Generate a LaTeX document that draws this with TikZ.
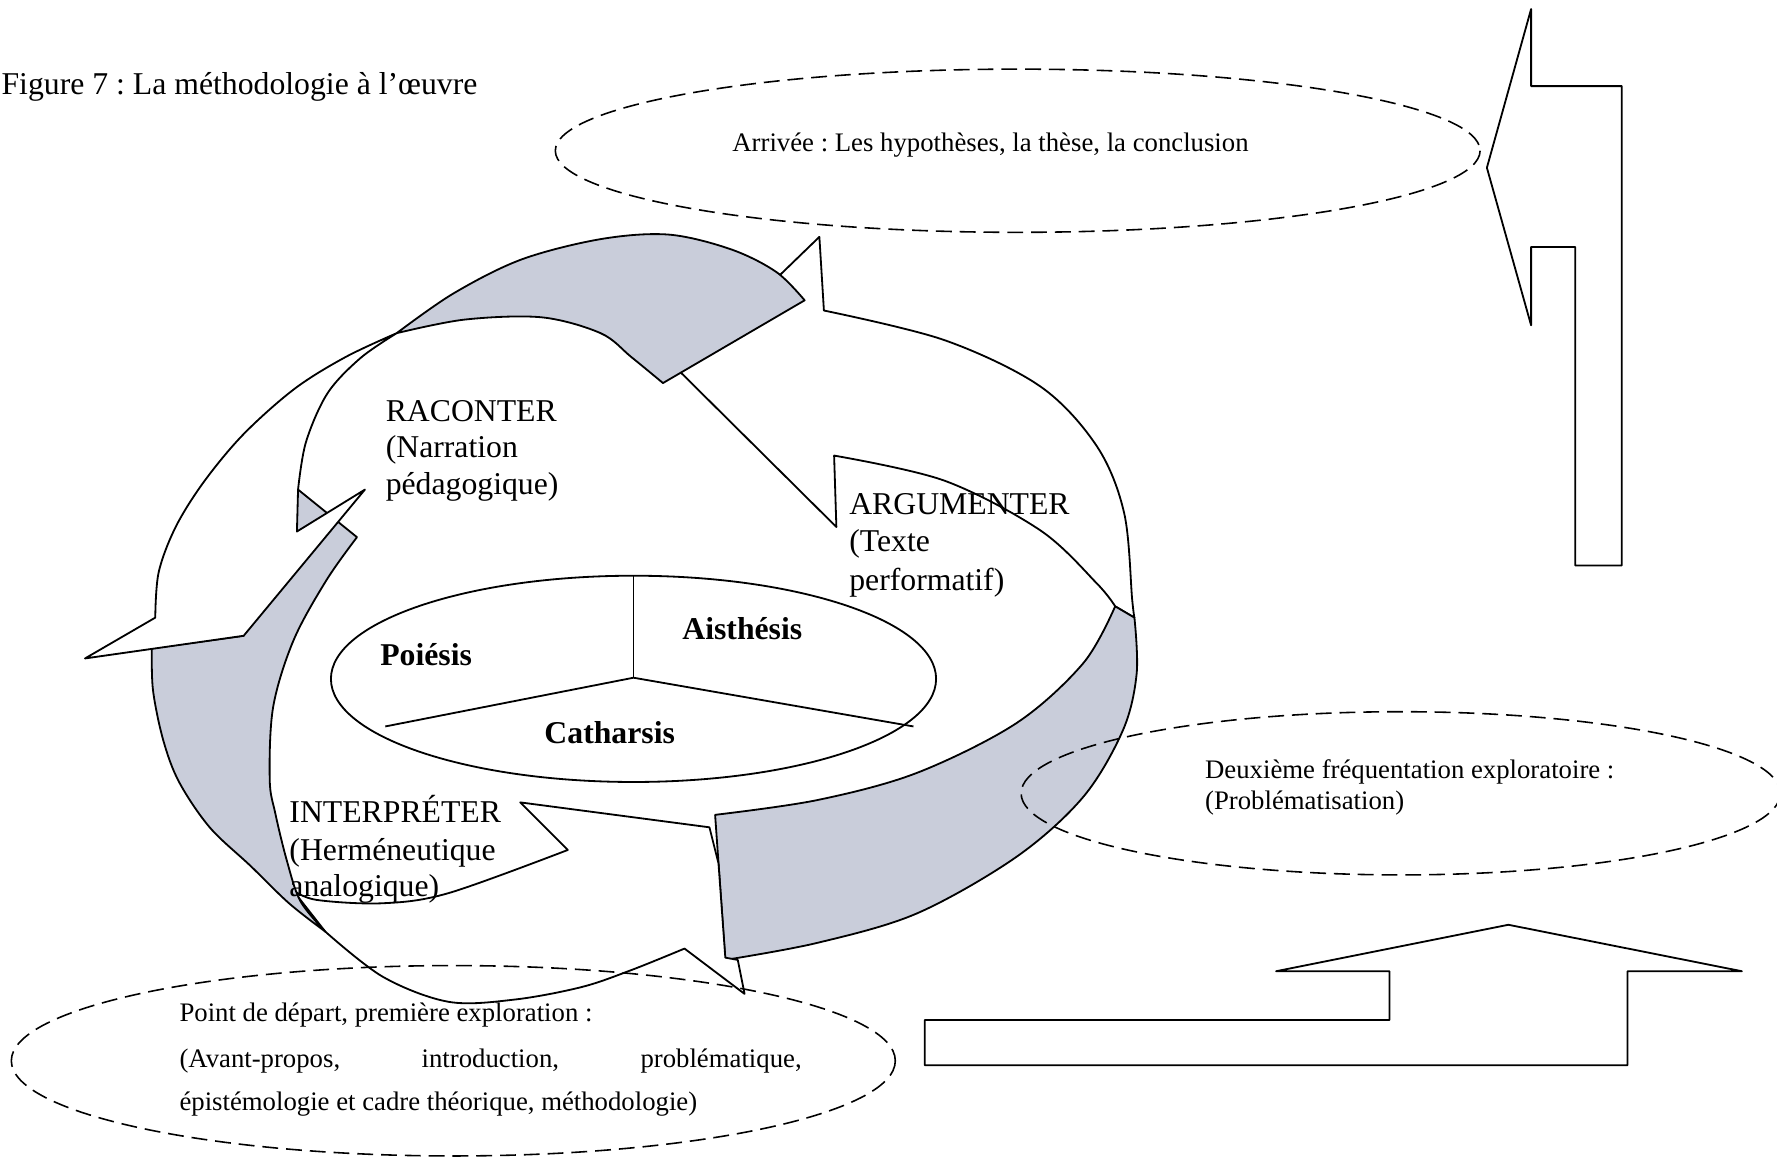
\documentclass[tikz,border=0pt]{standalone}
\usepackage{fontspec}
\setmainfont{Liberation Serif}
\frenchspacing
\definecolor{wallgray}{RGB}{201,205,218}
\begin{document}
\begin{tikzpicture}[x=0.5pt,y=-0.5pt,
  outline/.style={draw=black,line width=0.8pt,line join=round},
  face/.style={outline,fill=white},
  wall/.style={outline,fill=wallgray},
  zone/.style={draw=black,line width=0.7pt,dash pattern=on 7pt off 3.5pt},
  bigtxt/.style={font=\fontsize{14}{16}\selectfont,inner sep=0pt,anchor=base west},
  smalltxt/.style={font=\fontsize{11.8}{14}\selectfont,inner sep=0pt,anchor=base west},
  keyword/.style={font=\fontsize{14}{16}\selectfont\bfseries,inner sep=0pt,anchor=base},
  sm/.style={smooth,tension=0.55}]
\useasboundingbox (0,0) rectangle (1568,1022);

% --- cycle of three curved ribbons ---
% right ribbon (ARGUMENTER), white face
\path[face] (723,209) -- (727,274)
  -- plot[sm] coordinates {(727,274) (833,300) (918,341) (968,394) (992,453) (999,529) (1001,545)}
  -- (984,535)
  -- plot[sm] coordinates {(984,535) (968,515) (918,468) (833,424) (736,402)}
  -- (738,465) -- (600,328) -- cycle;
% top wall
\path[wall] (350,294)
  -- plot[sm] coordinates {(350,294) (400,259) (460,229) (530,211) (590,207) (645,220) (685,240) (710,265)}
  -- (585,338)
  -- plot[sm] coordinates {(585,338) (557,315) (530,294) (478,280) (410,282) (350,294)}
  -- cycle;
% lower right wall
\path[wall] (984,535)
  -- plot[sm] coordinates {(984,535) (956,585) (897,638) (809,682) (721,706) (631,719)}
  -- (640,847)
  -- plot[sm] coordinates {(640,847) (721,832) (809,806) (897,756) (956,703) (991,644) (1003,594) (1001,545)}
  -- cycle;
% bottom ribbon (INTERPRETER), white face
\path[face] (459,708) -- (626,730) -- (634,762) -- (640,845) -- (651,847) -- (657,877) -- (604,837)
  -- plot[sm] coordinates {(604,837) (557,856) (513,871) (454,882) (396,884) (338,862) (287,822)}
  -- (258,785)
  -- plot[sm] coordinates {(258,785) (279,794) (338,797) (396,788) (501,750)}
  -- cycle;
% left wall
\path[wall] (263,432) -- (315,474)
  -- plot[sm] coordinates {(315,474) (288,512) (259,565) (241,624) (238,688) (243,718) (253,759) (265,795) (287,822)}
  -- plot[sm] coordinates {(287,822) (255,797) (221,764) (185,730) (158,690) (144,653) (135,609) (134,572)}
  -- (215,561) -- cycle;
% top-left ribbon (RACONTER), white face
\path[face] (75,581) -- (137,545)
  -- plot[sm] coordinates {(137,545) (140,505) (155,465) (180,425) (215,383) (260,343) (305,315) (350,294)}
  -- plot[sm] coordinates {(350,294) (318,316) (289,347) (270,390) (263,432)}
  -- (262,469) -- (322,432) -- (215,561) -- cycle;

% --- central ellipse with its three sectors ---
\draw[outline] (559,599) ellipse [x radius=267, y radius=91];
\coordinate (hub) at (559,598);
\draw[outline] (hub) -- (559,508);
\draw[outline] (hub) -- (340,641);
\draw[outline] (hub) -- (806,641);
\node[keyword] (poi) at (376,587) {Poiésis};
\node[keyword] (ais) at (655,564) {Aisthésis};
\node[keyword] (cat) at (538,656) {Catharsis};

% --- dashed stage ellipses ---
\draw[zone] (898,133) ellipse [x radius=408, y radius=72];
\draw[zone] (1236,700) ellipse [x radius=335, y radius=72];
\draw[zone] (400,936) ellipse [x radius=390, y radius=84];

% --- block arrows on the right ---
\draw[outline] (1351,8) -- (1351,76) -- (1431,76) -- (1431,499) -- (1390,499) -- (1390,218)
  -- (1351,218) -- (1351,287) -- (1312,148) -- cycle;
\draw[outline] (816,900) -- (1226,900) -- (1226,857) -- (1126,857) -- (1331,816) -- (1537,857)
  -- (1436,857) -- (1436,940) -- (816,940) -- cycle;

% --- texts ---
\node[bigtxt] (title) at (1,83) {Figure 7 : La méthodologie à l’œuvre};
\node[smalltxt,anchor=base] (arr) at (874,134) {Arrivée : Les hypothèses, la thèse, la conclusion};

\node[bigtxt] (rac1) at (340,372) {RACONTER};
\node[bigtxt] (rac2) at (340,404) {(Narration};
\node[bigtxt] (rac3) at (340,436) {pédagogique)};

\node[bigtxt] (arg1) at (749,454) {ARGUMENTER};
\node[bigtxt] (arg2) at (749,487) {(Texte};
\node[bigtxt] (arg3) at (749,521) {performatif)};

\node[bigtxt] (int1) at (255,726) {INTERPRÉTER};
\node[bigtxt] (int2) at (255,759) {(Herméneutique};
\node[bigtxt] (int3) at (255,791) {analogique)};

\node[smalltxt] (deux1) at (1063,687) {Deuxième fréquentation exploratoire :};
\node[smalltxt] (deux2) at (1063,714) {(Problématisation)};

\node[smalltxt] (dep1) at (158,901) {Point de départ, première exploration :};
\node[smalltxt] (dep2) at (158,942) {\makebox[274.5pt][s]{(Avant-propos,\hfill introduction,\hfill problématique,}};
\node[smalltxt] (dep3) at (158,980) {épistémologie et cadre théorique, méthodologie)};
\end{tikzpicture}
\end{document}
